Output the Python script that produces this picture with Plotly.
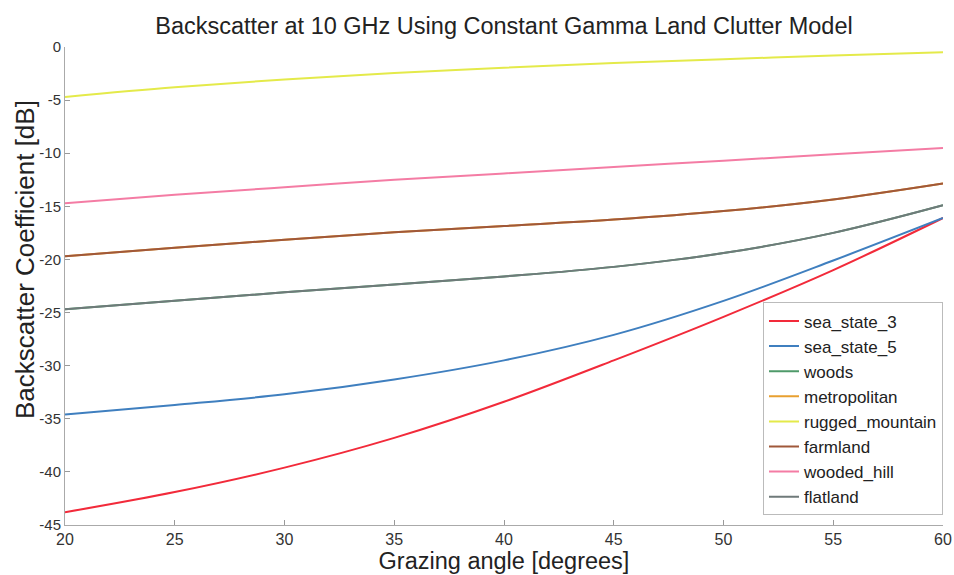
import plotly.graph_objects as go

grazing = [20, 25, 30, 35, 40, 45, 50, 55, 60]

sea_state_3 = [-43.8, -41.9, -39.6, -36.8, -33.4, -29.5, -25.4, -21.0, -16.1]
sea_state_5 = [-34.6, -33.7, -32.7, -31.3, -29.5, -27.1, -23.9, -20.1, -16.1]
woods = [-24.7, -23.9, -23.1, -22.35, -21.6, -20.7, -19.4, -17.5, -14.9]
metropolitan = [-19.7, -18.9, -18.15, -17.45, -16.85, -16.25, -15.45, -14.35, -12.85]
rugged_mountain = [-4.7, -3.8, -3.05, -2.45, -1.95, -1.5, -1.15, -0.8, -0.5]
farmland = [-19.7, -18.9, -18.15, -17.45, -16.85, -16.25, -15.45, -14.35, -12.85]
wooded_hill = [-14.7, -13.9, -13.2, -12.5, -11.9, -11.3, -10.7, -10.1, -9.5]
flatland = [-24.7, -23.9, -23.1, -22.35, -21.6, -20.7, -19.4, -17.5, -14.9]

names = ["sea_state_3", "sea_state_5", "woods", "metropolitan",
         "rugged_mountain", "farmland", "wooded_hill", "flatland"]
series = [sea_state_3, sea_state_5, woods, metropolitan,
          rugged_mountain, farmland, wooded_hill, flatland]
colors = ["#f22a3a", "#3f7fbf", "#4f9a6a", "#e8a030",
          "#e4ea4a", "#a0583a", "#f47ca4", "#6f7a7a"]

x_ticks = [20, 25, 30, 35, 40, 45, 50, 55, 60]
y_ticks = [0, -5, -10, -15, -20, -25, -30, -35, -40, -45]

FONT = "Arial, Liberation Sans, sans-serif"

fig = go.Figure()
for n, s, c in zip(names, series, colors):
    fig.add_trace(go.Scatter(x=grazing, y=s, name=n, mode="lines",
                             line=dict(color=c, width=2, shape="spline", smoothing=1.0)))

fig.update_layout(
    width=954, height=575,
    margin=dict(l=65, r=11, t=47, b=50, autoexpand=False),
    paper_bgcolor="white", plot_bgcolor="white",
    font=dict(family=FONT, color="#222222"),
    title=dict(text="Backscatter at 10 GHz Using Constant Gamma Land Clutter Model",
               x=504 / 954, xanchor="center", y=1 - 26 / 575, yanchor="middle",
               font=dict(size=23.5, color="#222222")),
    xaxis=dict(range=[20, 60], tickvals=x_ticks, ticktext=[str(v) for v in x_ticks],
               ticks="inside", ticklen=5, automargin=False,
               tickcolor="#999999", showline=True, linecolor="#aaaaaa", linewidth=1,
               showgrid=False, zeroline=False, tickfont=dict(size=16, color="#333333"),
               title=dict(text="Grazing angle [degrees]", font=dict(size=23.5, color="#222222"),
                          standoff=0)),
    yaxis=dict(range=[-45, 0], tickvals=y_ticks, ticktext=[str(v) for v in y_ticks],
               ticks="inside", ticklen=5, automargin=False,
               tickcolor="#999999", showline=True, linecolor="#aaaaaa", linewidth=1,
               showgrid=False, zeroline=False, tickfont=dict(size=15, color="#333333")),
    annotations=[dict(text="Backscatter Coefficient [dB]", textangle=-90,
                      xref="paper", yref="paper", x=-40 / 878, xanchor="center",
                      y=(525 - 260) / 478, yanchor="middle", showarrow=False,
                      font=dict(size=26, color="#222222"))],
    legend=dict(x=1.0, xanchor="right", y=0.02, yanchor="bottom",
                bgcolor="white", bordercolor="#bbbbbb", borderwidth=1,
                font=dict(size=17, color="#222222"), itemwidth=30,
                tracegroupgap=0),
    showlegend=True,
)

fig.write_html("out.html")
